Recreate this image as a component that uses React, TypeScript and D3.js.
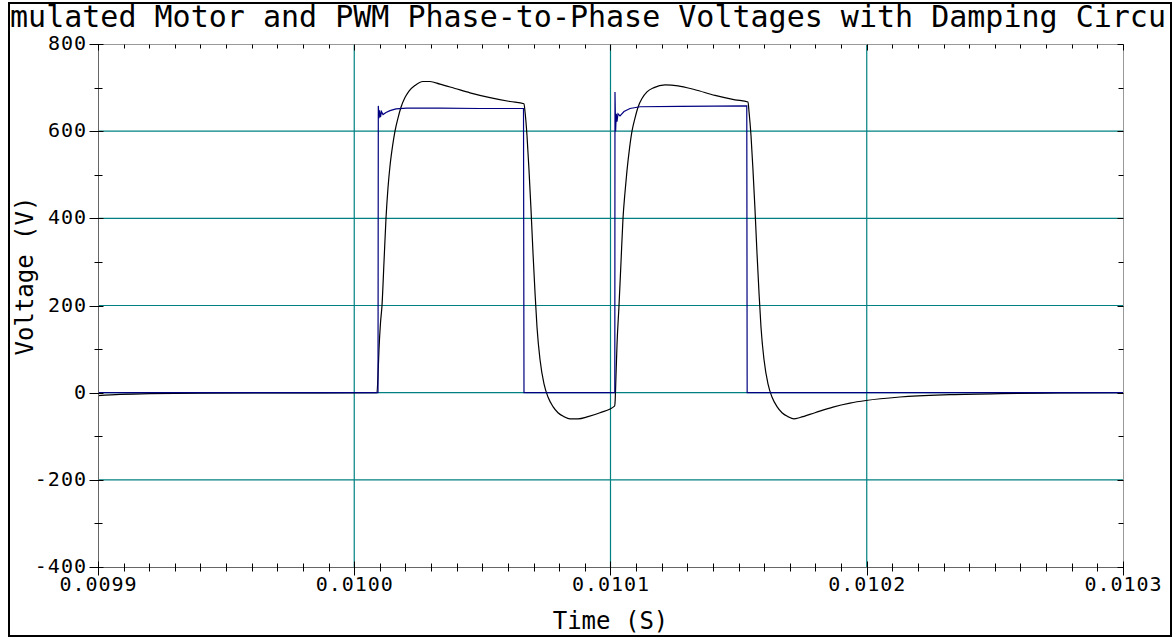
import React from "react";
import * as d3 from "d3";

// PWM phase-to-phase voltage (blue), time in seconds, volts
const pwmTime = [
  0.0099, 0.01000927, 0.01000939, 0.01000966, 0.01000993, 0.01001024, 0.01001063,
  0.01001122, 0.01001239, 0.01001395, 0.01001629, 0.01002043, 0.01003346, 0.01004907,
  0.01006605, 0.01006624, 0.01010168, 0.01010175, 0.01010199, 0.01010226, 0.01010253,
  0.01010292, 0.01010371, 0.01010527, 0.01010761, 0.01011151, 0.01012712, 0.01015318,
  0.01015333, 0.0103,
];
const pwmVolt = [
  0, 0, 658, 630, 648, 632, 645,
  638, 643, 647, 651, 653, 653, 652,
  652, 0, 0, 690, 600, 640, 622,
  640, 635, 645, 652, 656, 657, 658,
  0, 0,
];

// motor phase-to-phase voltage (black)
const motorTime = [
  0.0099, 0.00990859, 0.00992029, 0.0099398, 0.00996322, 0.01000888, 0.01000927,
  0.01000966, 0.01001024, 0.01001083, 0.01001161, 0.01001239, 0.01001317, 0.01001395,
  0.01001493, 0.0100159, 0.01001707, 0.01001824, 0.0100198, 0.01002137, 0.01002371,
  0.01002683, 0.01002956, 0.01003346, 0.01003932, 0.01004517, 0.01005298, 0.01006078,
  0.01006624,
  0.01006663, 0.01006741, 0.0100682, 0.01006898, 0.01006976, 0.01007054, 0.01007132,
  0.01007249, 0.01007405, 0.01007561, 0.01007756, 0.01007951, 0.01008185, 0.0100842,
  0.01008732, 0.01009122, 0.0100959, 0.01010156,
  0.01010175, 0.01010215, 0.01010254, 0.01010332, 0.0101041, 0.01010488, 0.01010566,
  0.01010644, 0.01010741, 0.01010839, 0.01010956, 0.01011073, 0.01011229, 0.01011424,
  0.01011698, 0.01012127, 0.01012634, 0.01013298, 0.01014078, 0.01014859, 0.01015366,
  0.01015405, 0.01015483, 0.01015561, 0.01015639, 0.01015717, 0.01015795, 0.01015873,
  0.0101599, 0.01016146, 0.01016302, 0.01016498, 0.01016693, 0.01016927, 0.01017161,
  0.01017395, 0.0101798, 0.01018683, 0.01019346, 0.0101997, 0.01021298, 0.01023249,
  0.010252, 0.01027541, 0.0103,
];
const motorVolt = [
  -7, -4, -2, -1, -0.5, 0, 40,
  100, 160, 200, 300, 400, 470, 520,
  565, 600, 630, 655, 677, 692, 705,
  714, 714, 708, 698, 688, 677, 668,
  663,
  645, 590, 510, 420, 320, 230, 150,
  76, 20, -10, -32, -46, -55, -60,
  -60, -55, -46, -31,
  -25, 40, 110, 200, 300, 400, 460,
  510, 560, 600, 630, 655, 675, 690,
  700, 706, 704, 695, 682, 672, 667,
  645, 590, 510, 420, 320, 230, 150,
  76, 20, -10, -32, -46, -55, -60,
  -57, -46, -33, -24, -18, -10, -4.6,
  -2, -0.8, 0,
];

const title = "Simulated Motor and PWM Phase-to-Phase Voltages with Damping Circuit";
const xLabel = "Time (S)";
const yLabel = "Voltage (V)";

const W = 1176;
const H = 638;
const left = 98, right = 1123, top = 44, bottom = 567;
const font = "'DejaVu Sans Mono', monospace";

// snap to pixel centre so 1px axis lines stay crisp
const px = (v: number) => Math.round(v) + 0.5;

export default function App() {
  const x = d3.scaleLinear().domain([0.0099, 0.0103]).range([left, right]);
  const y = d3.scaleLinear().domain([-400, 800]).range([bottom, top]);

  const xMajor = x.ticks(4);
  const xMinor = x.ticks(40);
  const yMajor = y.ticks(6);
  const yMinor = y.ticks(12);
  const fmtX = d3.format(".4f");

  const pwmPath = d3
    .line<number>()
    .x((d) => x(d))
    .y((d, i) => y(pwmVolt[i]))(pwmTime);

  const motorPath = d3
    .line<number>()
    .x((d) => x(d))
    .y((d, i) => y(motorVolt[i]))
    .curve(d3.curveMonotoneX)(motorTime);

  const L = px(left), R = px(right), T = px(top), B = px(bottom);

  return (
    <div style={{ position: "absolute", left: 0, top: 0 }}>
      <svg width={W} height={H} style={{ display: "block", background: "#fff" }}>
        <defs>
          <clipPath id="frame">
            <rect x={10} y={4} width={1156} height={630} />
          </clipPath>
          <clipPath id="plot">
            <rect x={left} y={top} width={right - left} height={bottom - top} />
          </clipPath>
        </defs>

        {/* grid */}
        <g stroke="#008080" strokeWidth={1.2}>
          {xMajor.slice(1, -1).map((t) => (
            <line key={"gx" + t} x1={x(t)} x2={x(t)} y1={T} y2={B} />
          ))}
          {yMajor.slice(1, -1).map((v) => (
            <line key={"gy" + v} x1={L} x2={R} y1={y(v)} y2={y(v)} />
          ))}
        </g>

        <g clipPath="url(#plot)" fill="none">
          <path d={motorPath ?? ""} stroke="#000" strokeWidth={1.2} />
          <path d={pwmPath ?? ""} stroke="#000080" strokeWidth={1.2} />
        </g>

        {/* frame */}
        <line x1={L} x2={R} y1={T} y2={T} stroke="#999" />
        <line x1={R} x2={R} y1={T} y2={B} stroke="#999" />
        <line x1={L} x2={L} y1={T} y2={B} stroke="#666" />
        <line x1={L} x2={R} y1={B} y2={B} stroke="#666" />

        {/* ticks */}
        <g stroke="#000" strokeWidth={1}>
          {xMinor.map((t) => {
            const major = xMajor.some((m) => Math.abs(m - t) < 1e-9);
            const xx = px(x(t));
            return (
              <g key={"tx" + t}>
                <line x1={xx} x2={xx} y1={major ? B - 6 : B - 4} y2={major ? B + 8 : B + 4} />
                <line x1={xx} x2={xx} y1={T} y2={T + (major ? 6 : 4)} />
              </g>
            );
          })}
          {yMinor.map((v) => {
            const major = yMajor.includes(v);
            const yy = px(y(v));
            return (
              <g key={"ty" + v}>
                <line x1={major ? L - 9 : L - 4} x2={major ? L + 5 : L + 4} y1={yy} y2={yy} />
                <line x1={R - (major ? 6 : 5)} x2={R} y1={yy} y2={yy} />
              </g>
            );
          })}
        </g>

        {/* tick labels */}
        <g fontFamily={font} fontSize={20} fill="#000" letterSpacing={1}>
          {xMajor.map((t) => (
            <text key={"lx" + t} x={x(t) + 0.5} y={bottom + 24} textAnchor="middle">
              {fmtX(t)}
            </text>
          ))}
          {yMajor.map((v) => (
            <text key={"ly" + v} x={left - 11} y={y(v) + 6} textAnchor="end">
              {String(v)}
            </text>
          ))}
        </g>

        <text x={(left + right) / 2} y={629} textAnchor="middle" fontFamily={font} fontSize={24}>
          {xLabel}
        </text>
        <text
          transform={`translate(33, 276) rotate(-90)`}
          textAnchor="middle"
          fontFamily={font}
          fontSize={24}
        >
          {yLabel}
        </text>

        <g clipPath="url(#frame)">
          <text x={W / 2} y={27} textAnchor="middle" fontFamily={font} fontSize={30}>
            {title}
          </text>
        </g>

        <rect x={9} y={3} width={1162} height={633} fill="none" stroke="#000" strokeWidth={2} />
      </svg>
    </div>
  );
}
